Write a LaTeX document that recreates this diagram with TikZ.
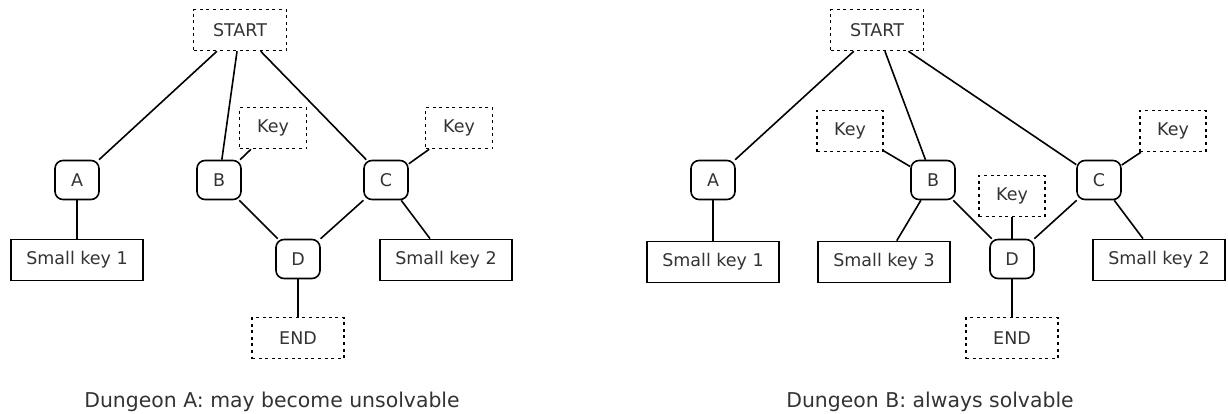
\documentclass[tikz,border=0pt]{standalone}
\usepackage{fontspec}
\setmainfont{DejaVu Sans}
\usepackage{tikz}
\usetikzlibrary{arrows}
\definecolor{inkgray}{gray}{0.2}
\tikzstyle{room} = [rectangle, draw, rounded corners=8pt, line width=1.6pt,
    minimum width=44pt, minimum height=39pt, inner sep=0pt, text=inkgray,
    font=\fontsize{17.5}{20}\selectfont]
\tikzstyle{marker} = [rectangle, draw, line width=1.5pt, dash pattern=on 3pt off 3.6pt,
    minimum height=41pt, inner sep=0pt, text=inkgray,
    font=\fontsize{17.5}{20}\selectfont]
\tikzstyle{item} = [rectangle, draw, line width=1.7pt,
    minimum width=132pt, minimum height=41pt, inner sep=0pt, text=inkgray,
    font=\fontsize{17.5}{20}\selectfont]
\tikzstyle{line} = [draw, line width=1.6pt]
\tikzstyle{caption} = [anchor=base, text=inkgray, font=\fontsize{20.4}{24}\selectfont]

\begin{document}
\begin{tikzpicture}[x=1pt, y=-1pt]
        \useasboundingbox (0,0) rectangle (1228,413);
        % Dungeon A
        \node [marker, minimum width=93pt] (startA) at (240,30) {START};
        \node [room] (roomAA) at (77,180) {A};
        \node [room] (roomAB) at (219,180) {B};
        \node [room] (roomAC) at (386,180) {C};
        \node [room] (roomAD) at (298,259) {D};
        \node [marker, minimum width=67pt] (keyAB) at (273,128) {Key};
        \node [marker, minimum width=67pt] (keyAC) at (459,128) {Key};
        \node [item] (smallAone) at (77,260) {Small key 1};
        \node [item] (smallAtwo) at (446,260) {Small key 2};
        \node [marker, minimum width=92pt] (endA) at (298,338) {END};
        \node [caption] (capA) at (272,407) {Dungeon A: may become unsolvable};
        \path [line] (startA) -- (roomAA);
        \path [line] (startA) -- (roomAB);
        \path [line] (startA) -- (roomAC);
        \path [line] (roomAB) -- (keyAB);
        \path [line] (roomAC) -- (keyAC);
        \path [line] (roomAA) -- (smallAone);
        \path [line] (roomAB) -- (roomAD);
        \path [line] (roomAC) -- (roomAD);
        \path [line] (roomAC) -- (smallAtwo);
        \path [line] (roomAD) -- (endA);
        % Dungeon B
        \node [marker, minimum width=93pt] (startB) at (877,30) {START};
        \node [room] (roomBA) at (713,180) {A};
        \node [room] (roomBB) at (933,180) {B};
        \node [room] (roomBC) at (1099,180) {C};
        \node [room] (roomBD) at (1012,259) {D};
        \node [marker, minimum width=66pt] (keyBB) at (850,131) {Key};
        \node [marker, minimum width=66pt] (keyBD) at (1012,196) {Key};
        \node [marker, minimum width=66pt] (keyBC) at (1173,131) {Key};
        \node [item] (smallBone) at (713,262) {Small key 1};
        \node [item] (smallBthree) at (884,262) {Small key 3};
        \node [item] (smallBtwo) at (1159,260) {Small key 2};
        \node [marker, minimum width=92pt] (endB) at (1012,338) {END};
        \node [caption] (capB) at (930,407) {Dungeon B: always solvable};
        \path [line] (startB) -- (roomBA);
        \path [line] (startB) -- (roomBB);
        \path [line] (startB) -- (roomBC);
        \path [line] (keyBB) -- (roomBB);
        \path [line] (roomBA) -- (smallBone);
        \path [line] (roomBB) -- (smallBthree);
        \path [line] (roomBB) -- (roomBD);
        \path [line] (keyBD) -- (roomBD);
        \path [line] (roomBC) -- (roomBD);
        \path [line] (roomBC) -- (keyBC);
        \path [line] (roomBC) -- (smallBtwo);
        \path [line] (roomBD) -- (endB);
\end{tikzpicture}
\end{document}
